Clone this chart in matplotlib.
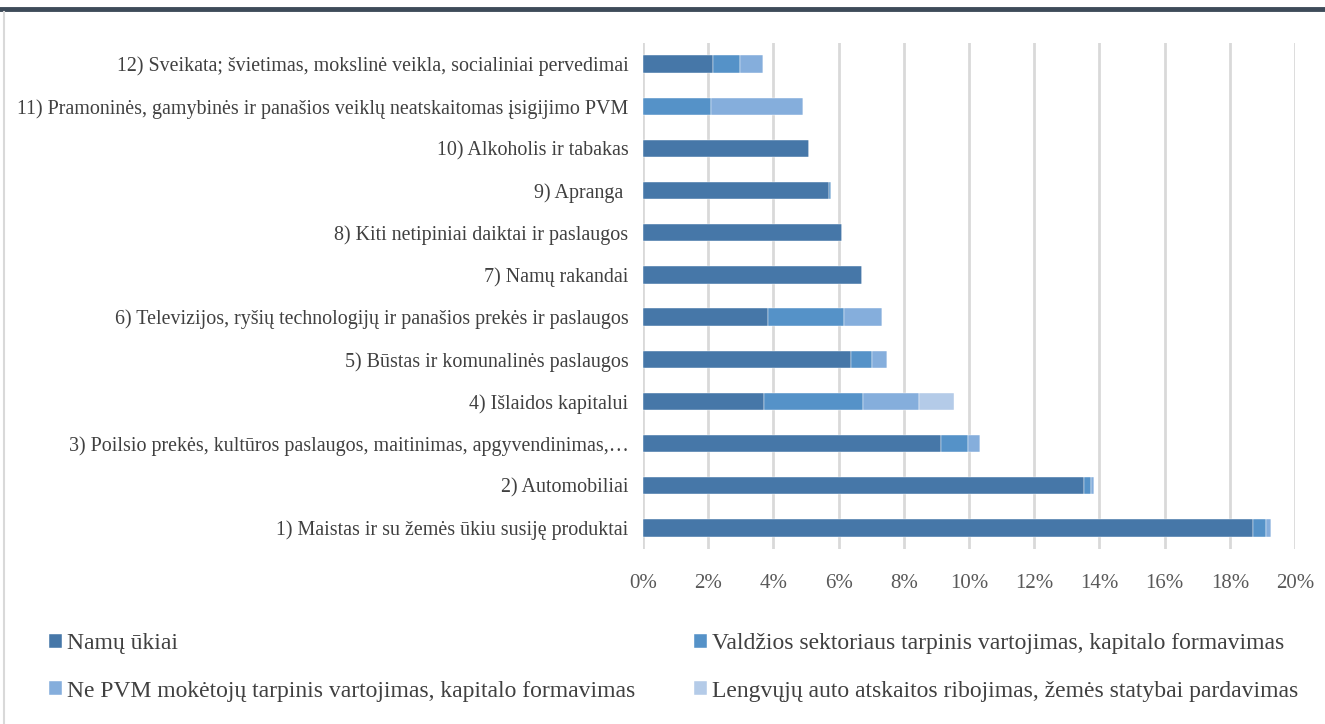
import matplotlib.pyplot as plt
import numpy as np
from matplotlib.lines import Line2D

plt.rcParams['font.family'] = ['Liberation Serif', 'DejaVu Serif']

# categories listed bottom -> top
categories = [
    "1) Maistas ir su žemės ūkiu susiję produktai",
    "2) Automobiliai",
    "3) Poilsio prekės, kultūros paslaugos, maitinimas, apgyvendinimas,…",
    "4) Išlaidos kapitalui",
    "5) Būstas ir komunalinės paslaugos",
    "6) Televizijos, ryšių technologijų ir panašios prekės ir paslaugos",
    "7) Namų rakandai",
    "8) Kiti netipiniai daiktai ir paslaugos",
    "9) Apranga ",
    "10) Alkoholis ir tabakas",
    "11) Pramoninės, gamybinės ir panašios veiklų neatskaitomas įsigijimo PVM",
    "12) Sveikata; švietimas, mokslinė veikla, socialiniai pervedimai",
]

series_names = [
    "Namų ūkiai",
    "Valdžios sektoriaus tarpinis vartojimas, kapitalo formavimas",
    "Ne PVM mokėtojų tarpinis vartojimas, kapitalo formavimas",
    "Lengvųjų auto atskaitos ribojimas, žemės statybai pardavimas",
]

# shares in percent
namu_ukiai = [18.71, 13.54, 9.14, 3.71, 6.39, 3.83, 6.72, 6.10, 5.72, 5.10, 0.00, 2.15]
valdzios = [0.41, 0.21, 0.84, 3.05, 0.63, 2.34, 0.00, 0.00, 0.06, 0.00, 2.09, 0.84]
ne_pvm = [0.15, 0.08, 0.36, 1.71, 0.47, 1.15, 0.00, 0.00, 0.00, 0.00, 2.81, 0.70]
lengvuju = [0.00, 0.00, 0.00, 1.06, 0.00, 0.00, 0.00, 0.00, 0.00, 0.00, 0.00, 0.00]

colors = ["#4677a8", "#5592c8", "#85aedc", "#b4cbe8"]

fig = plt.figure(figsize=(13.25, 7.24), dpi=100)
ax = fig.add_axes([643 / 1325, 1 - 549 / 724, 652 / 1325, 506 / 724])

y = np.arange(len(categories))
left = np.zeros(len(categories))
for vals, col, name in zip([namu_ukiai, valdzios, ne_pvm, lengvuju], colors, series_names):
    v = np.array(vals) / 100
    ax.barh(y, v, left=left, height=0.41, color=col, label=name, zorder=3,
            edgecolor='white', linewidth=0.3)
    left += v

ax.set_xlim(0, 0.20)
ax.set_ylim(-0.5, len(categories) - 0.5)
ax.set_xticks(np.arange(0, 0.201, 0.02))
ax.set_xticklabels([f"{int(round(t * 100))}%" for t in np.arange(0, 0.201, 0.02)])
ax.set_yticks(y)
ax.set_yticklabels(categories)
ax.tick_params(axis='x', labelsize=15, colors='#595959', length=0, pad=18)
ax.tick_params(axis='y', labelsize=14.4, colors='#404040', length=0, pad=10.5)
ax.grid(axis='x', color='#d9d9d9', linewidth=2, zorder=0)
for s in ax.spines.values():
    s.set_visible(False)

# frame decorations
fig.add_artist(Line2D([0, 1], [1 - 9 / 724, 1 - 9 / 724], color='#3e4b59', linewidth=3.5))
fig.add_artist(Line2D([4 / 1325, 4 / 1325], [0, 1 - 12 / 724], color='#d9d9d9', linewidth=1.5))

# legend, row by row
handles, labels = ax.get_legend_handles_labels()
order = [0, 2, 1, 3]
leg = fig.legend([handles[i] for i in order], [labels[i] for i in order],
                 loc='upper left', bbox_to_anchor=(28 / 1325, 1 - 612 / 724),
                 ncol=2, frameon=False, fontsize=17, handlelength=0.55, handleheight=0.55,
                 handletextpad=0.2, columnspacing=2.5, labelspacing=1.12,
                 labelcolor='#404040')

fig.savefig('out.png', dpi=100)
